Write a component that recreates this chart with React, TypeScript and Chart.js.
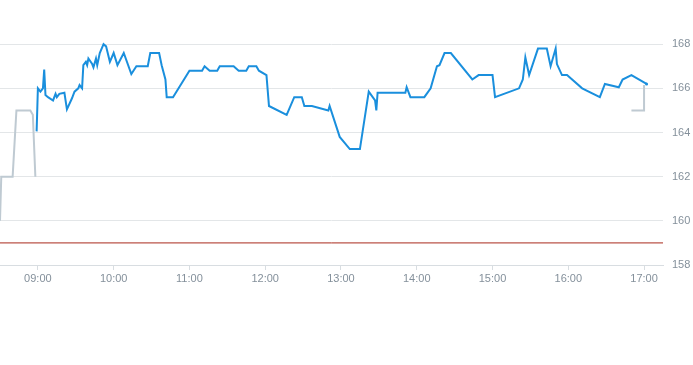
import React, { useEffect, useRef } from "react";
import { Chart, registerables } from "chart.js";

Chart.register(...registerables);

// Trading session (blue)
const sessionTimes = [
  "08:59", "09:00", "09:02", "09:04", "09:05", "09:06", "09:08", "09:12", "09:14", "09:15",
  "09:17", "09:21", "09:23", "09:27", "09:29", "09:32", "09:33", "09:35", "09:36", "09:38",
  "09:39", "09:40", "09:43", "09:44", "09:46", "09:47", "09:49", "09:52", "09:54", "09:57",
  "10:00", "10:03", "10:08", "10:14", "10:18", "10:27", "10:29", "10:36", "10:38", "10:41",
  "10:42", "10:47", "11:00", "11:10", "11:12", "11:16", "11:22", "11:24", "11:35", "11:39",
  "11:45", "11:47", "11:53", "11:55", "12:01", "12:03", "12:17", "12:23", "12:29", "12:31",
  "12:37", "12:50", "12:51", "12:59", "13:07", "13:15", "13:22", "13:27", "13:28", "13:29",
  "13:51", "13:52", "13:55", "14:06", "14:11", "14:16", "14:18", "14:22", "14:27", "14:44",
  "14:49", "15:00", "15:02", "15:21", "15:24", "15:26", "15:29", "15:36", "15:43", "15:46",
  "15:50", "15:51", "15:55", "15:59", "16:11", "16:25", "16:29", "16:40", "16:43", "16:50",
  "17:02",
];
const sessionValues = [
  164.05, 166.0, 165.85, 166.0, 166.85, 165.7, 165.6, 165.45, 165.75, 165.6,
  165.75, 165.8, 165.05, 165.55, 165.85, 166.0, 166.15, 166.0, 167.05, 167.2,
  167.05, 167.35, 167.1, 166.95, 167.35, 167.05, 167.6, 168.0, 167.9, 167.2,
  167.6, 167.05, 167.6, 166.65, 167.0, 167.0, 167.6, 167.6, 167.05, 166.4,
  165.6, 165.6, 166.8, 166.8, 167.0, 166.8, 166.8, 167.0, 167.0, 166.8,
  166.8, 167.0, 167.0, 166.8, 166.6, 165.2, 164.8, 165.6, 165.6, 165.2,
  165.2, 165.0, 165.2, 163.8, 163.25, 163.25, 165.85, 165.45, 165.0, 165.8,
  165.8, 166.05, 165.6, 165.6, 166.0, 167.0, 167.05, 167.6, 167.6, 166.4,
  166.6, 166.6, 165.6, 166.0, 166.4, 167.4, 166.6, 167.8, 167.8, 167.0,
  167.8, 167.1, 166.6, 166.6, 166.0, 165.6, 166.2, 166.05, 166.4, 166.6,
  166.2,
];

// Pre-market (grey)
const preTimes = ["08:30", "08:31", "08:40", "08:43", "08:54", "08:56", "08:58"];
const preValues = [160.0, 162.0, 162.0, 165.0, 165.0, 164.8, 162.0];

// After-hours (grey)
const postTimes = ["16:50", "17:00", "17:00"];
const postValues = [165.0, 165.0, 166.15];

// Reference line (previous close)
const referenceValue = 159.0;

const xTickLabels = ["09:00", "10:00", "11:00", "12:00", "13:00", "14:00", "15:00", "16:00", "17:00"];
const yTickValues = [158, 160, 162, 164, 166, 168];

const toMin = (s: string) => {
  const [h, m] = s.split(":").map(Number);
  return h * 60 + m;
};
const fmt = (v: number) => {
  const h = Math.floor(v / 60);
  const m = Math.round(v - h * 60);
  return String(h).padStart(2, "0") + ":" + String(m).padStart(2, "0");
};

const X_MIN = toMin("08:30");
const X_MAX = toMin("17:15");

const zeroPad = (axis: any) => {
  axis.paddingTop = 0;
  axis.paddingBottom = 0;
  axis.paddingLeft = 0;
  axis.paddingRight = 0;
};

export default function App() {
  const ref = useRef<HTMLCanvasElement | null>(null);
  useEffect(() => {
    if (!ref.current) return;
    const session = sessionTimes.map((t, i) => ({ x: toMin(t), y: sessionValues[i] }));
    const pre = preTimes.map((t, i) => ({ x: toMin(t), y: preValues[i] }));
    const post = postTimes.map((t, i) => ({ x: toMin(t), y: postValues[i] }));
    const last = session.length - 1;
    const chart = new Chart(ref.current, {
      type: "line",
      data: {
        datasets: [
          {
            data: [
              { x: X_MIN, y: referenceValue },
              { x: X_MAX, y: referenceValue },
            ],
            borderColor: "#a92a1c",
            borderWidth: 1,
            pointRadius: 0,
          },
          {
            data: pre,
            borderColor: "#bfcad2",
            borderWidth: 2,
            pointRadius: 0,
          },
          {
            data: post,
            borderColor: "#bfcad2",
            borderWidth: 2,
            pointRadius: 0,
          },
          {
            data: session,
            borderColor: "#1a8fdd",
            backgroundColor: "#1a8fdd",
            borderWidth: 2,
            pointRadius: (ctx: any) => (ctx.dataIndex === last ? 1.5 : 0),
            pointBorderWidth: 0,
          },
        ],
      },
      options: {
        responsive: false,
        animation: false,
        events: [],
        layout: { padding: 0, autoPadding: false },
        plugins: { legend: { display: false }, tooltip: { enabled: false } },
        elements: { line: { tension: 0 } },
        scales: {
          x: {
            type: "linear",
            position: "bottom",
            min: X_MIN,
            max: X_MAX,
            afterBuildTicks: (axis: any) => {
              axis.ticks = xTickLabels.map((l) => ({ value: toMin(l) }));
            },
            afterFit: (axis: any) => {
              axis.height = 100;
              zeroPad(axis);
            },
            grid: {
              drawOnChartArea: false,
              drawTicks: true,
              tickLength: 5,
              color: "#d8dde1",
            },
            border: { display: true, color: "#d8dde1" },
            ticks: {
              padding: 2,
              color: "#84909b",
              font: { family: "Liberation Sans, Arial, sans-serif", size: 11 },
              callback: (v: any) => fmt(Number(v)),
              maxRotation: 0,
              autoSkip: false,
            },
          },
          y: {
            type: "linear",
            position: "right",
            min: 158,
            max: 170,
            afterBuildTicks: (axis: any) => {
              axis.ticks = yTickValues.map((v) => ({ value: v }));
            },
            afterFit: (axis: any) => {
              axis.width = 30;
              zeroPad(axis);
            },
            grid: { drawTicks: false, color: "#e3e6e8" },
            border: { display: false },
            ticks: {
              padding: 9,
              color: "#84909b",
              font: { family: "Liberation Sans, Arial, sans-serif", size: 11 },
              callback: (v: any) => String(v),
            },
          },
        },
      },
    } as any);
    return () => chart.destroy();
  }, []);
  return (
    <div style={{ position: "fixed", left: 0, top: 0, width: 693, height: 365, background: "#fff" }}>
      <canvas ref={ref} width={693} height={365} style={{ display: "block" }} />
    </div>
  );
}
